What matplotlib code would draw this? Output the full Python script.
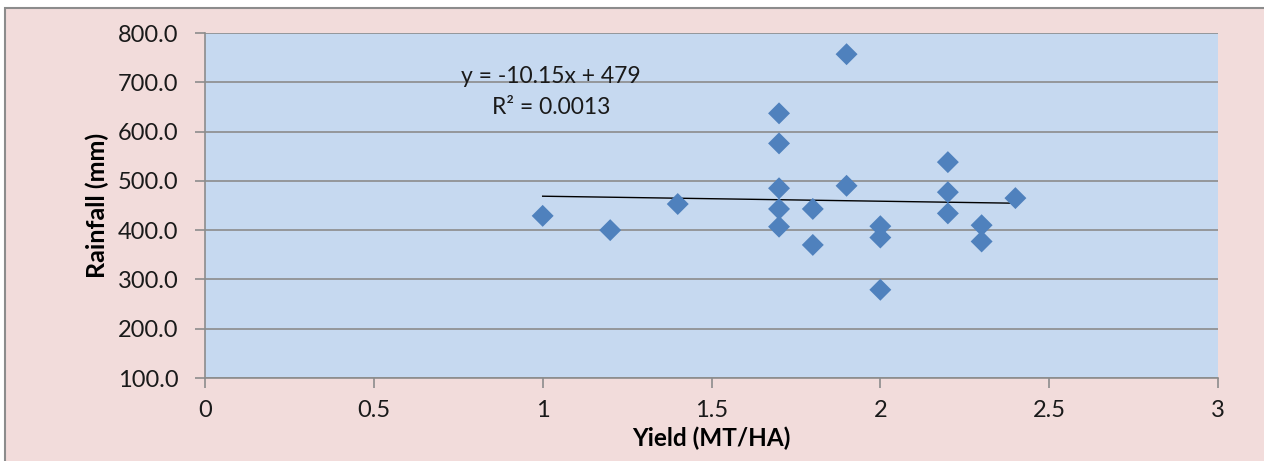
import numpy as np
import matplotlib
matplotlib.use("Agg")
from matplotlib import pyplot as plt
from matplotlib.patches import Rectangle

plt.rcParams["font.family"] = ["Lato", "DejaVu Sans"]

# Yield (MT/HA) vs rainfall (mm)
yield_mt = [1.0, 1.2, 1.4, 1.7, 1.7, 1.7, 1.7, 1.7, 1.8, 1.8, 1.9, 1.9,
            2.0, 2.0, 2.0, 2.2, 2.2, 2.2, 2.3, 2.3, 2.4]
rainfall = [429, 400, 453, 637, 576, 485, 443, 407, 443, 370, 757, 490,
            408, 385, 279, 538, 477, 434, 410, 377, 465]

# linear trendline as shown on the chart
slope = -10.15
intercept = 479
eq_text = "y = -10.15x + 479\nR² = 0.0013"

x_ticks = [0, 0.5, 1, 1.5, 2, 2.5, 3]
x_tick_labels = ["0", "0.5", "1", "1.5", "2", "2.5", "3"]
y_ticks = [100, 200, 300, 400, 500, 600, 700, 800]

W, H = 1264, 461
fig = plt.figure(figsize=(W / 100, H / 100), dpi=100, facecolor="white")

# chart area background with a grey frame on the left and top
fig.patches.append(Rectangle((5 / W, -0.1), 1.2, 1 - 8 / H + 0.1,
                             transform=fig.transFigure, facecolor="#f2dcdb",
                             edgecolor="#8c8c8c", linewidth=1.5, zorder=-10))

ax = fig.add_axes([205 / W, 1 - 378 / H, (1218 - 205) / W, (378 - 33) / H])
ax.set_facecolor("#c6d9f0")

ax.scatter(yield_mt, rainfall, marker="D", s=125, color="#4f81bd",
           edgecolors="none", zorder=3)

xs = np.array([min(yield_mt), max(yield_mt)])
ax.plot(xs, slope * xs + intercept, color="black", linewidth=1, zorder=2)

ax.text(1.025, 680, eq_text, ha="center", va="center", fontsize=16.5,
        color="#1a1a1a", linespacing=1.6)

ax.set_xlim(0, 3)
ax.set_ylim(100, 800)
ax.set_xticks(x_ticks)
ax.set_xticklabels(x_tick_labels)
ax.set_yticks(y_ticks)
ax.set_yticklabels([f"{v:.1f}" for v in y_ticks])
ax.yaxis.grid(True, color="#8c8c8c", linewidth=1.2)
ax.set_axisbelow(True)

for side in ["top", "right"]:
    ax.spines[side].set_visible(False)
for side in ["left", "bottom"]:
    ax.spines[side].set_color("#8c8c8c")
    ax.spines[side].set_linewidth(1.2)

ax.tick_params(axis="both", direction="out", length=7, color="#8c8c8c",
               width=1.2, labelsize=17, labelcolor="#1a1a1a")
ax.tick_params(axis="x", pad=9)
ax.tick_params(axis="y", pad=12)

ax.set_xlabel("Yield (MT/HA)", fontsize=17.5, fontweight="bold", labelpad=4)
ax.set_ylabel("Rainfall (mm)", fontsize=18, fontweight="bold", labelpad=6)

fig.savefig("out.png", dpi=100, facecolor=fig.get_facecolor())
